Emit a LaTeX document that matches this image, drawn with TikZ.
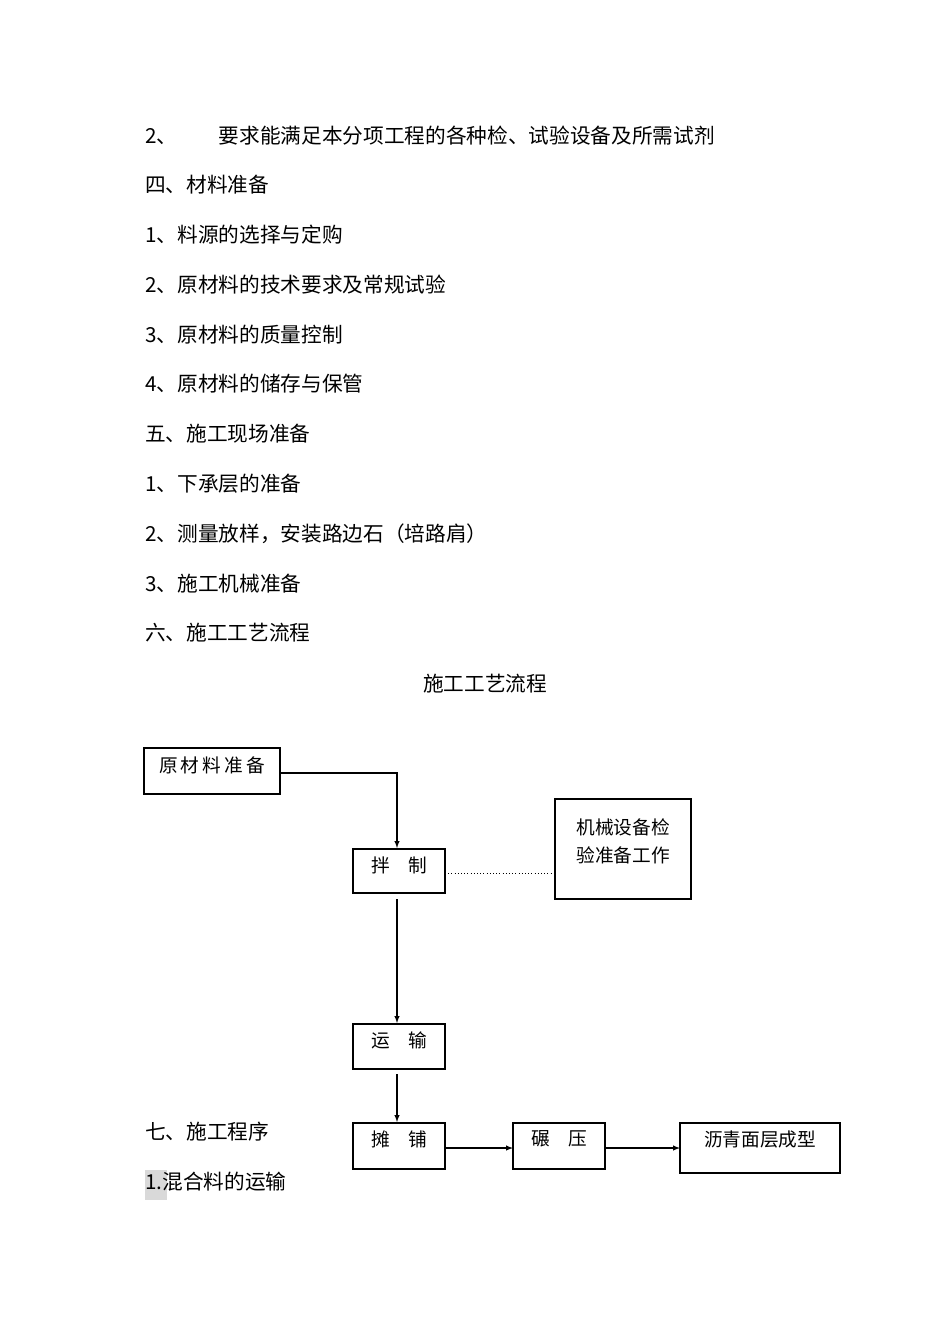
\documentclass[tikz,border=0pt]{standalone}
\usepackage{fontspec}
\setmainfont{Noto Sans CJK SC}
\begin{document}
\begin{tikzpicture}[x=0.75pt,y=-0.75pt,
  line/.style={anchor=west,inner sep=0pt,font=\fontsize{15.5}{18}\selectfont},
  bx/.style={draw,line width=0.8pt},
  lb/.style={inner sep=0pt,font=\fontsize{14}{17}\selectfont},
  arr/.style={-latex,line width=0.8pt}]
\useasboundingbox (0,0) rectangle (950,1344);
\node[line] (l1) at (145,136) {2、\hspace{2em}要求能满足本分项工程的各种检、试验设备及所需试剂};
\node[line] (l2) at (145,185) {四、材料准备};
\node[line] (l3) at (145,235) {1、料源的选择与定购};
\node[line] (l4) at (145,285) {2、原材料的技术要求及常规试验};
\node[line] (l5) at (145,335) {3、原材料的质量控制};
\node[line] (l6) at (145,384) {4、原材料的储存与保管};
\node[line] (l7) at (145,434) {五、施工现场准备};
\node[line] (l8) at (145,484) {1、下承层的准备};
\node[line] (l9) at (145,534) {2、测量放样，安装路边石（培路肩）};
\node[line] (l10) at (145,584) {3、施工机械准备};
\node[line] (l11) at (145,633) {六、施工工艺流程};
\node[line,anchor=center] (t) at (485,684) {施工工艺流程};
\node[line] (l12) at (145,1132) {七、施工程序};
\fill[gray!30] (145,1170) rectangle (167,1200);
\node[line] (l13) at (145,1182) {1.混合料的运输};
% boxes
\draw[bx] (144,748) rectangle (280,794); \node[lb] (a) at (212,765) {原\,材\,料\,准\,备};
\coordinate (aR) at (280,773);
\draw[bx] (353,849) rectangle (445,893); \node[lb] (b) at (399,865) {拌\quad 制};
\draw[bx] (555,799) rectangle (691,899);
\node[lb,align=center] (c) at (623,841) {机械设备检\\[4pt]验准备工作};
\draw[bx] (353,1024) rectangle (445,1069); \node[lb] (d) at (399,1040) {运\quad 输};
\draw[bx] (353,1123) rectangle (445,1169); \node[lb] (e) at (399,1139) {摊\quad 铺};
\draw[bx] (513,1123) rectangle (605,1169); \node[lb] (f) at (559,1139) {碾\quad 压};
\draw[bx] (680,1123) rectangle (840,1173); \node[lb] (g) at (760,1139) {沥青面层成型};
\coordinate (bT) at (397,848);
\coordinate (bB) at (397,899);
\coordinate (dT) at (397,1023);
\coordinate (dB) at (397,1074);
\coordinate (eT) at (397,1122);
\draw[arr] (aR) -| (bT);
\draw[dotted] (445,873) -- (555,873);
\draw[arr] (bB) -- (dT);
\draw[arr] (dB) -- (eT);
\draw[arr] (445,1148) -- (513,1148);
\draw[arr] (605,1148) -- (680,1148);
\end{tikzpicture}
\end{document}
